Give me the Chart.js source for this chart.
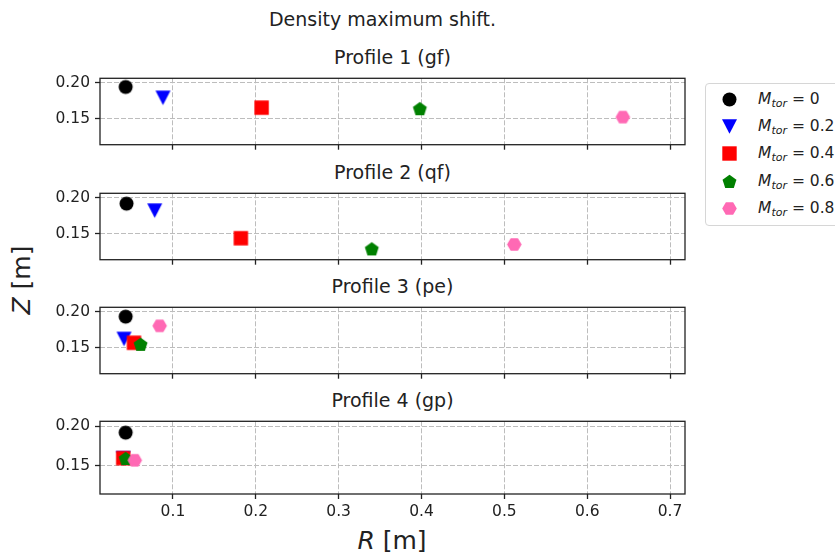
<!DOCTYPE html>
<html>
<head>
<meta charset="utf-8">
<script src="https://cdn.jsdelivr.net/npm/chart.js@4.4.1/dist/chart.umd.min.js"></script>
<style>
    body { margin: 0; background: #fff; font-family: 'DejaVu Sans', sans-serif; color: #222; }
    #page { position: relative; width: 835px; height: 553px; overflow: hidden; background: #fff; }
    canvas { position: absolute; left: 0; }
    .txt { position: absolute; white-space: nowrap; }
    .subtitle { left: 100px; width: 585px; text-align: center; font-size: 19px; line-height: 22px; }
    #legend { position: absolute; left: 705px; top: 83px; width: 140px; height: 141px;
              border: 1px solid #d6d6d6; border-radius: 4px; background: #fff; }
    .row { position: absolute; left: 0; height: 22px; line-height: 22px; font-size: 15.5px; }
    .row img { position: absolute; left: 15px; top: 3px; }
    .row span { position: absolute; left: 52px; }
    sub { font-size: 11px; font-style: italic; vertical-align: -3px; line-height: 0; }
</style>
</head>
<body>
<div id="page">
    <div class="txt" style="left:0; width:765px; text-align:center; top:8px; font-size:19px; line-height:22px;">Density maximum shift.</div>
    <div class="txt" style="left:21px; top:280px; font-size:25px; transform:translate(-50%,-50%) rotate(-90deg);"><i>Z</i> [m]</div>
    <div class="txt" style="left:392px; top:540px; font-size:25px; transform:translate(-50%,-50%);"><i>R</i> [m]</div>
    <div id="legend"></div>
</div>

<script>
// Axis ticks
const xTicks = [0.1, 0.2, 0.3, 0.4, 0.5, 0.6, 0.7];
const yTicks = [0.15, 0.20];
const xMin = 0.012, xMax = 0.718;
const yMin = 0.1143, yMax = 0.206;

// Series: M_tor values, one marker per value in every profile
const mtorLabels = ['0', '0.2', '0.4', '0.6', '0.8'];
const markerColors = ['#000000', '#0000ff', '#ff0000', '#008000', '#ff69b4'];
const markerShapes = ['circle', 'triangleDown', 'square', 'pentagon', 'hexagon'];

const profileTitles = ['Profile 1 (gf)', 'Profile 2 (qf)', 'Profile 3 (pe)', 'Profile 4 (gp)'];

// R and Z of the density maximum, ordered like mtorLabels
const profile1R = [0.043, 0.088, 0.207, 0.398, 0.643];
const profile1Z = [0.194, 0.179, 0.1655, 0.164, 0.1524];
const profile2R = [0.044, 0.078, 0.182, 0.340, 0.512];
const profile2Z = [0.1917, 0.182, 0.144, 0.1292, 0.1353];
const profile3R = [0.043, 0.041, 0.053, 0.061, 0.084];
const profile3Z = [0.1931, 0.1623, 0.157, 0.1548, 0.1804];
const profile4R = [0.043, 0.040, 0.040, 0.043, 0.054];
const profile4Z = [0.1917, 0.1595, 0.1595, 0.159, 0.1568];

const profilesR = [profile1R, profile2R, profile3R, profile4R];
const profilesZ = [profile1Z, profile2Z, profile3Z, profile4Z];

// layout of the four panels (plot area top, height)
const plotTops = [74, 189, 303, 417];
const plotHeight = 77;
const padTop = 10;

// Build marker images (matplotlib-like shapes)
function makeMarker(shape, color) {
    const c = document.createElement('canvas');
    c.width = 17; c.height = 17;
    const ctx = c.getContext('2d');
    const cx = 8.5, cy = 8.5;
    ctx.fillStyle = color;
    ctx.beginPath();
    if (shape === 'circle') {
        ctx.arc(cx, cy, 7, 0, Math.PI * 2);
    } else if (shape === 'triangleDown') {
        ctx.moveTo(cx - 7.5, cy - 7.2);
        ctx.lineTo(cx + 7.5, cy - 7.2);
        ctx.lineTo(cx, cy + 7.2);
    } else if (shape === 'square') {
        ctx.rect(cx - 7.2, cy - 7.2, 14.4, 14.4);
    } else if (shape === 'pentagon') {
        for (let i = 0; i < 5; i++) {
            const a = -Math.PI / 2 + i * 2 * Math.PI / 5;
            const px = cx + 7.3 * Math.cos(a), py = cy + 0.6 + 7.3 * Math.sin(a);
            i === 0 ? ctx.moveTo(px, py) : ctx.lineTo(px, py);
        }
    } else if (shape === 'hexagon') {
        for (let i = 0; i < 6; i++) {
            const a = i * Math.PI / 3;
            const px = cx + 7.3 * Math.cos(a), py = cy + 7.3 * Math.sin(a);
            i === 0 ? ctx.moveTo(px, py) : ctx.lineTo(px, py);
        }
    }
    ctx.closePath();
    ctx.fill();
    return c;
}

const markerImages = markerShapes.map((s, i) => makeMarker(s, markerColors[i]));

// Frame around each plot area
const framePlugin = {
    id: 'frame',
    afterDraw(chart) {
        const a = chart.chartArea;
        const ctx = chart.ctx;
        ctx.save();
        ctx.strokeStyle = '#222';
        ctx.lineWidth = 1.3;
        ctx.strokeRect(a.left, a.top, a.right - a.left, a.bottom - a.top);
        ctx.restore();
    }
};

const tickFont = { family: 'DejaVu Sans', size: 15.5 };

function createPanel(idx) {
    const page = document.getElementById('page');
    const last = idx === 3;
    const xh = last ? 30 : 8;

    const title = document.createElement('div');
    title.className = 'txt subtitle';
    title.style.top = (plotTops[idx] - 28) + 'px';
    title.textContent = profileTitles[idx];
    page.appendChild(title);

    const canvas = document.createElement('canvas');
    canvas.width = 700;
    canvas.height = padTop + plotHeight + xh;
    canvas.style.top = (plotTops[idx] - padTop) + 'px';
    page.appendChild(canvas);

    const rVals = profilesR[idx];
    const zVals = profilesZ[idx];

    new Chart(canvas, {
        type: 'scatter',
        data: {
            datasets: mtorLabels.map((m, i) => ({
                label: 'M_tor = ' + m,
                data: [{ x: rVals[i], y: zVals[i] }],
                pointStyle: markerImages[i],
                pointRadius: 7,
                backgroundColor: markerColors[i],
                borderColor: markerColors[i],
                order: mtorLabels.length - i
            }))
        },
        options: {
            responsive: false,
            animation: false,
            events: [],
            layout: { padding: { left: 0, right: 15, top: padTop, bottom: 0 } },
            plugins: {
                legend: { display: false },
                tooltip: { enabled: false }
            },
            scales: {
                x: {
                    type: 'linear',
                    min: xMin,
                    max: xMax,
                    afterBuildTicks: (scale) => { scale.ticks = xTicks.map(v => ({ value: v })); },
                    afterFit: (scale) => { scale.height = xh; },
                    grid: {
                        color: '#bdbdbd',
                        lineWidth: 1,
                        tickLength: 5,
                        tickColor: '#222',
                        tickWidth: 1.3
                    },
                    border: { display: false, dash: [5, 2] },
                    ticks: {
                        display: last,
                        padding: 4,
                        maxRotation: 0,
                        color: '#222',
                        font: tickFont,
                        callback: (v) => v.toFixed(1)
                    }
                },
                y: {
                    type: 'linear',
                    min: yMin,
                    max: yMax,
                    afterBuildTicks: (scale) => { scale.ticks = yTicks.map(v => ({ value: v })); },
                    afterFit: (scale) => { scale.width = 100; },
                    grid: {
                        color: '#bdbdbd',
                        lineWidth: 1,
                        tickLength: 5,
                        tickColor: '#222',
                        tickWidth: 1.3
                    },
                    border: { display: false, dash: [5, 2] },
                    ticks: {
                        padding: 5,
                        color: '#222',
                        font: tickFont,
                        callback: (v) => v.toFixed(2)
                    }
                }
            }
        },
        plugins: [framePlugin]
    });
}

for (let i = 0; i < 4; i++) createPanel(i);

// Legend
const legend = document.getElementById('legend');
mtorLabels.forEach((m, i) => {
    const row = document.createElement('div');
    row.className = 'row';
    row.style.top = (4 + i * 27.2) + 'px';
    row.style.width = '140px';
    const img = document.createElement('img');
    img.src = markerImages[i].toDataURL();
    img.width = 17; img.height = 17;
    const span = document.createElement('span');
    span.innerHTML = '<i>M</i><sub>tor</sub> = ' + m;
    row.appendChild(img);
    row.appendChild(span);
    legend.appendChild(row);
});
</script>
</body>
</html>
